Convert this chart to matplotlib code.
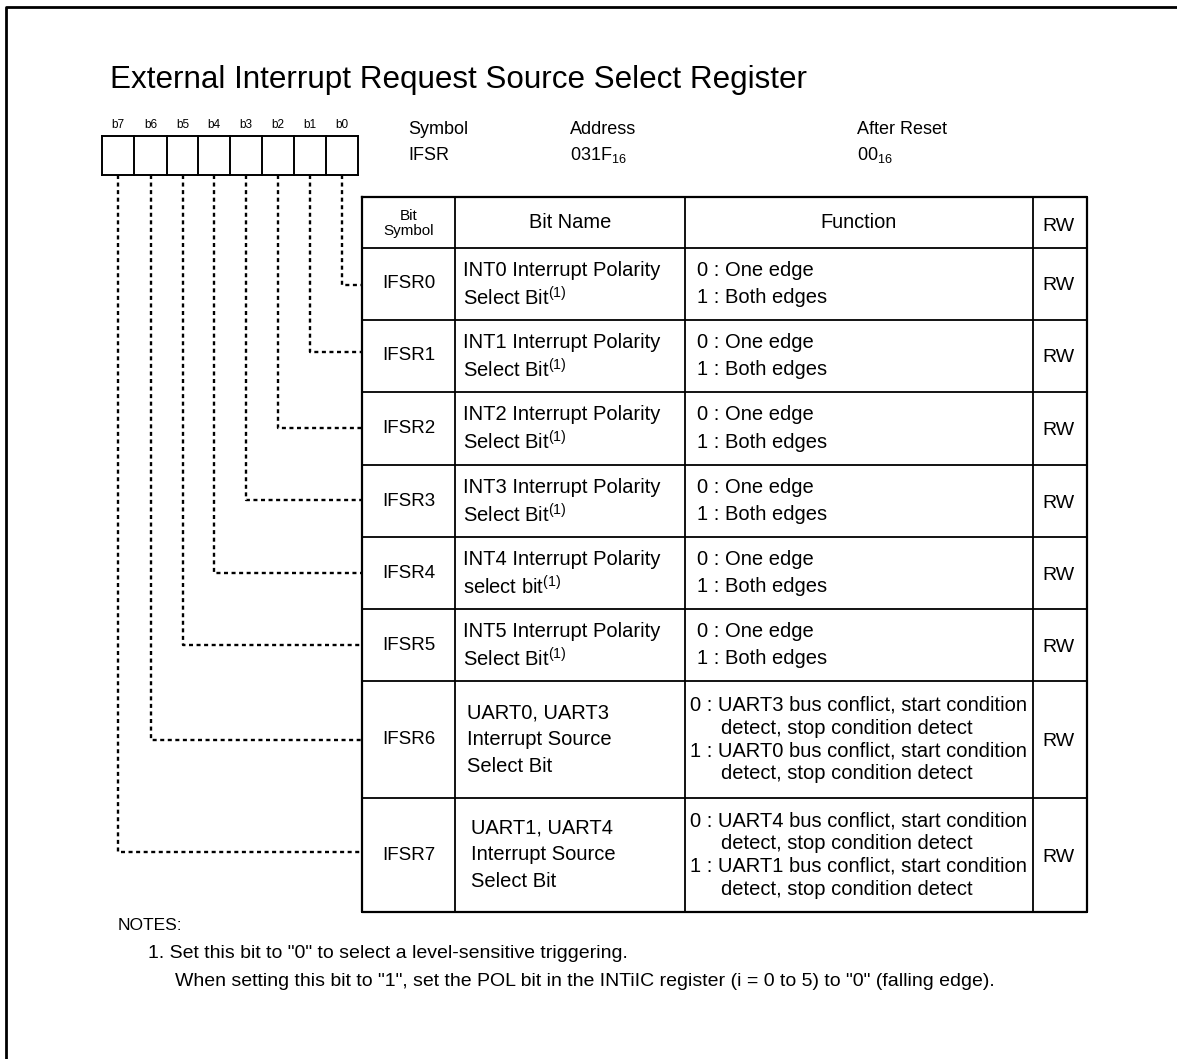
import matplotlib.pyplot as plt

plt.rcParams['font.family'] = ['Liberation Sans', 'DejaVu Sans']
plt.rcParams['mathtext.fontset'] = 'custom'
plt.rcParams['mathtext.rm'] = 'Liberation Sans'

# register contents
title = "External Interrupt Request Source Select Register"
bit_labels = ["b7", "b6", "b5", "b4", "b3", "b2", "b1", "b0"]
symbols = ["IFSR0", "IFSR1", "IFSR2", "IFSR3", "IFSR4", "IFSR5", "IFSR6", "IFSR7"]
bit_names = [
    ["INT0 Interrupt Polarity", "Select Bit$^{(1)}$"],
    ["INT1 Interrupt Polarity", "Select Bit$^{(1)}$"],
    ["INT2 Interrupt Polarity", "Select Bit$^{(1)}$"],
    ["INT3 Interrupt Polarity", "Select Bit$^{(1)}$"],
    ["INT4 Interrupt Polarity", "select bit$^{(1)}$"],
    ["INT5 Interrupt Polarity", "Select Bit$^{(1)}$"],
    ["UART0, UART3", "Interrupt Source", "Select Bit"],
    ["UART1, UART4", "Interrupt Source", "Select Bit"],
]
functions = [
    ["0 : One edge", "1 : Both edges"],
    ["0 : One edge", "1 : Both edges"],
    ["0 : One edge", "1 : Both edges"],
    ["0 : One edge", "1 : Both edges"],
    ["0 : One edge", "1 : Both edges"],
    ["0 : One edge", "1 : Both edges"],
    ["0 : UART3 bus conflict, start condition", "detect, stop condition detect",
     "1 : UART0 bus conflict, start condition", "detect, stop condition detect"],
    ["0 : UART4 bus conflict, start condition", "detect, stop condition detect",
     "1 : UART1 bus conflict, start condition", "detect, stop condition detect"],
]
rw = ["RW"] * 8
header = ["Bit\nSymbol", "Bit Name", "Function", "RW"]
info_labels = ["Symbol", "Address", "After Reset"]
info_values = ["IFSR", "031F$_{16}$", "00$_{16}$"]
notes = ["NOTES:",
         '1. Set this bit to "0" to select a level-sensitive triggering.',
         'When setting this bit to "1", set the POL bit in the INTiIC register (i = 0 to 5) to "0" (falling edge).']

# layout (pixels)
W, H = 1177, 1059
box_x = [102, 134.3, 166.7, 198.3, 230, 262.3, 294, 326, 358.3]
box_top, box_bot = 136, 175
col_x = [362, 455, 685, 1033, 1087]
row_y = [197, 248, 320, 392, 465, 537, 609, 681, 798, 912]
lead_y = [285, 352, 428, 500, 573, 645, 740, 852]
name_x = [463, 463, 463, 463, 463, 463, 467, 471]
info_x = [408, 570, 857]

fig = plt.figure(figsize=(W / 100, H / 100), dpi=100, facecolor="white")
ax = fig.add_axes([0, 0, 1, 1])
ax.set_xlim(0, W)
ax.set_ylim(H, 0)
ax.axis("off")

# page frame (top and left edges)
ax.plot([6, 6, W], [H, 7, 7], color="black", lw=2)

ax.text(110, 80, title, fontsize=22.6, va="center", ha="left")

# bit boxes
ax.plot([box_x[0], box_x[-1]], [box_top, box_top], color="black", lw=1.4)
ax.plot([box_x[0], box_x[-1]], [box_bot, box_bot], color="black", lw=1.4)
for x in box_x:
    ax.plot([x, x], [box_top, box_bot], color="black", lw=1.4)
for i, lab in enumerate(bit_labels):
    ax.text((box_x[i] + box_x[i + 1]) / 2, 125, lab, fontsize=8.5, ha="center", va="center")

# symbol / address / reset
for x, lab, val in zip(info_x, info_labels, info_values):
    ax.text(x, 129, lab, fontsize=13, ha="left", va="center")
    ax.text(x, 155, val, fontsize=13, ha="left", va="center")

# leader lines from bits to the rows
for k in range(8):
    bi = 7 - k
    cx = (box_x[bi] + box_x[bi + 1]) / 2
    ax.plot([cx, cx, col_x[0]], [box_bot, lead_y[k], lead_y[k]], color="black",
            lw=1.7, linestyle=(0, (1.7, 1.5)))

# table grid
for y in row_y:
    ax.plot([col_x[0], col_x[-1]], [y, y], color="black", lw=1.3)
for x in col_x:
    ax.plot([x, x], [row_y[0], row_y[-1]], color="black", lw=1.3)
ax.plot([col_x[0], col_x[-1], col_x[-1], col_x[0], col_x[0]],
        [row_y[0], row_y[0], row_y[-1], row_y[-1], row_y[0]], color="black", lw=1.6)

# header
hy = (row_y[0] + row_y[1]) / 2
ax.text((col_x[0] + col_x[1]) / 2, hy + 1, header[0], fontsize=11, ha="center", va="center",
        linespacing=1.1)
ax.text((col_x[1] + col_x[2]) / 2, hy, header[1], fontsize=14.4, ha="center", va="center")
ax.text((col_x[2] + col_x[3]) / 2, hy, header[2], fontsize=14.4, ha="center", va="center")
ax.text((col_x[3] + col_x[4]) / 2 - 2, hy + 4, header[3], fontsize=14, ha="center", va="center")

# rows
for k in range(8):
    cy = (row_y[k + 1] + row_y[k + 2]) / 2
    ax.text((col_x[0] + col_x[1]) / 2, cy, symbols[k], fontsize=13.5, ha="center", va="center")
    ax.text((col_x[3] + col_x[4]) / 2 - 2, cy + 2, rw[k], fontsize=14, ha="center", va="center")
    names = bit_names[k]
    step = 27 if len(names) == 2 else 26.5
    for j, s in enumerate(names):
        ax.text(name_x[k], cy + (j - (len(names) - 1) / 2) * step, s, fontsize=14.5,
                ha="left", va="center")
    funcs = functions[k]
    fstep = 27 if len(funcs) == 2 else 22.7
    fx = 697 if len(funcs) == 2 else 690
    for j, s in enumerate(funcs):
        indent = 31 if s.startswith("detect") else 0
        ax.text(fx + indent, cy + (j - (len(funcs) - 1) / 2) * fstep, s, fontsize=14.5,
                ha="left", va="center")

# notes
ax.text(118, 925, notes[0], fontsize=12.5, ha="left", va="center")
ax.text(148, 953, notes[1], fontsize=14, ha="left", va="center")
ax.text(175, 981, notes[2], fontsize=14, ha="left", va="center")

fig.savefig("out.png", dpi=100, facecolor="white")
